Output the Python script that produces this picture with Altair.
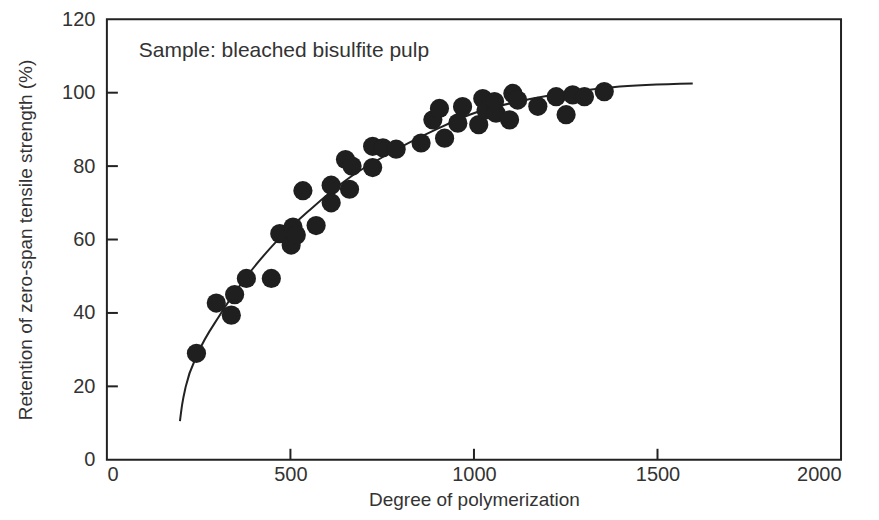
import altair as alt
import pandas as pd

# Scatter data
dp = [244, 298, 348, 339, 380, 448, 471, 507, 502, 516, 570, 534, 611, 611, 661,
      650, 668, 724, 724, 752, 788, 856, 888, 906, 920, 956, 969, 1013, 1024, 1033,
      1056, 1060, 1097, 1106, 1119, 1174, 1224, 1251, 1269, 1301, 1355]
retention = [29.0, 42.7, 45.0, 39.4, 49.4, 49.4, 61.6, 63.4, 58.5, 61.2, 63.8, 73.3, 74.8, 70.0, 73.7,
             81.8, 80.0, 79.6, 85.4, 85.0, 84.6, 86.3, 92.6, 95.7, 87.6, 91.7, 96.2, 91.3, 98.4, 95.3,
             97.6, 94.4, 92.6, 99.8, 98.0, 96.3, 98.9, 94.0, 99.4, 98.9, 100.3]

# Fitted curve
curve_x = [199, 205, 215, 248, 307, 380, 462, 552, 670, 761, 897, 988, 1160, 1378, 1596]
curve_y = [10.5, 15, 20, 29, 39.3, 49.8, 59.5, 68.0, 77.5, 83.0, 90.0, 94.0, 98.4, 101.5, 102.5]

x_ticks = [500, 1000, 1500]
y_ticks = [20, 40, 60, 80, 100]
x_tick_labels = [0, 500, 1000, 1500, 2000]
y_tick_labels = [0, 20, 40, 60, 80, 100, 120]

FONT = "Liberation Sans"
INK = "#222222"
TXT = "#333333"

pts = pd.DataFrame({"dp": dp, "ret": retention})
crv = pd.DataFrame({"dp": curve_x, "ret": curve_y})

xs = alt.Scale(domain=[0, 2000], nice=False)
ys = alt.Scale(domain=[0, 120], nice=False)

xaxis = alt.Axis(values=x_tick_labels, format="d", ticks=False, domain=False, grid=False,
                 labelFont=FONT, labelFontSize=20, labelColor=TXT, labelPadding=5,
                 title="Degree of polymerization", titleFont=FONT, titleFontSize=19,
                 titleFontWeight="normal", titleColor=TXT, titlePadding=6)
yaxis = alt.Axis(values=y_tick_labels, format="d", ticks=False, domain=False, grid=False,
                 labelFont=FONT, labelFontSize=20, labelColor=TXT, labelPadding=12,
                 title="Retention of zero-span tensile strength (%)", titleFont=FONT,
                 titleFontSize=19, titleFontWeight="normal", titleColor=TXT,
                 titlePadding=26)

line = alt.Chart(crv).mark_line(color=INK, strokeWidth=2, interpolate="monotone").encode(
    x=alt.X("dp:Q", scale=xs, axis=xaxis),
    y=alt.Y("ret:Q", scale=ys, axis=yaxis),
)

points = alt.Chart(pts).mark_circle(size=370, color="#1f1f1f", opacity=1).encode(
    x=alt.X("dp:Q", scale=xs),
    y=alt.Y("ret:Q", scale=ys),
)

xt = alt.Chart(pd.DataFrame({"v": x_ticks})).mark_rule(color=INK, strokeWidth=2).encode(
    x=alt.X("v:Q", scale=xs), y=alt.value(441), y2=alt.value(430))
yt = alt.Chart(pd.DataFrame({"v": y_ticks})).mark_rule(color=INK, strokeWidth=2).encode(
    y=alt.Y("v:Q", scale=ys), x=alt.value(0), x2=alt.value(11))

label = alt.Chart(pd.DataFrame({"t": ["Sample: bleached bisulfite pulp"]})).mark_text(
    align="left", baseline="middle", font=FONT, fontSize=21, color=TXT).encode(
    x=alt.datum(87, scale=xs), y=alt.datum(111.4, scale=ys), text="t:N")

chart = alt.layer(line, points, xt, yt, label).properties(
    width=735, height=441,
    autosize=alt.AutoSizeParams(type="none"),
    padding={"left": 99, "top": 11, "right": 30, "bottom": 52},
    background="white",
).configure_view(stroke=INK, strokeWidth=2)

chart.save("out.html", embed_options={"renderer": "svg", "actions": False})
